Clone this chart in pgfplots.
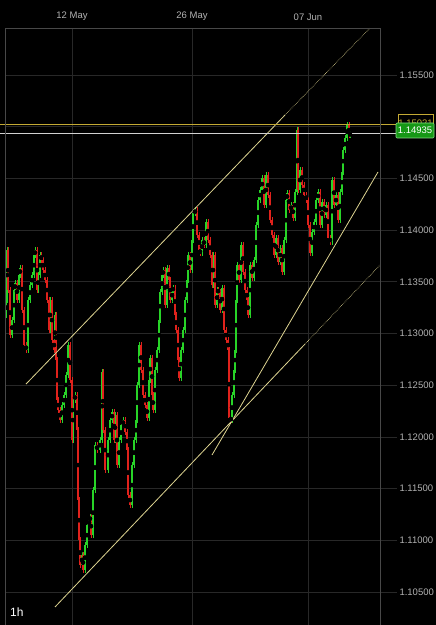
\documentclass[border=0pt]{standalone}
\usepackage{fontspec}
\setmainfont{Liberation Sans}
\usepackage{pgfplots}
\usepackage{pgfplotstable}
\pgfplotsset{compat=1.18}
\definecolor{upc}{RGB}{40,212,40}
\definecolor{dnc}{RGB}{224,34,28}
\definecolor{gridc}{RGB}{40,40,40}
\definecolor{framec}{RGB}{72,72,72}
\definecolor{labc}{RGB}{178,178,178}
\definecolor{trendc}{RGB}{222,212,145}
\definecolor{hlyel}{RGB}{196,170,52}
\definecolor{boxg}{RGB}{22,152,22}
\definecolor{boxgb}{RGB}{130,220,130}

\pgfplotstableread{
x o c
6 1.13180 1.13324
7 1.13324 1.13807
8 1.13807 1.13420
10 1.13420 1.12985
12 1.12985 1.13130
14 1.13130 1.13420
15 1.13420 1.13488
17 1.13488 1.13324
19 1.13324 1.13566
20 1.13566 1.13633
22 1.13633 1.13227
24 1.13227 1.12889
26 1.12889 1.12840
28 1.12840 1.13324
30 1.13324 1.13469
32 1.13469 1.13566
34 1.13566 1.13759
35 1.13759 1.13807
37 1.13807 1.13420
38 1.13420 1.13566
40 1.13566 1.13759
41 1.13759 1.13711
43 1.13711 1.13614
45 1.13614 1.13517
47 1.13517 1.13324
49 1.13324 1.13034
50 1.13034 1.13324
52 1.13324 1.12937
54 1.12937 1.12840
55 1.12840 1.13179
56 1.13179 1.12743
57 1.12743 1.12357
58 1.12357 1.12260
60 1.12260 1.12163
62 1.12163 1.12308
64 1.12308 1.12405
66 1.12405 1.12598
68 1.12598 1.12889
70 1.12889 1.12550
72 1.12550 1.11970
73 1.11970 1.12357
75 1.12357 1.12405
77 1.12405 1.12066
78 1.12066 1.11390
79 1.11390 1.11003
80 1.11003 1.10761
82 1.10761 1.10858
83 1.10858 1.10713
85 1.10713 1.10954
87 1.10954 1.11148
89 1.11148 1.11196
90 1.11196 1.11225
91 1.11225 1.11051
93 1.11051 1.11486
95 1.11486 1.11921
97 1.11921 1.11873
100 1.11873 1.11970
102 1.11970 1.12627
103 1.12627 1.12066
105 1.12066 1.11680
108 1.11680 1.11970
110 1.11970 1.12163
112 1.12163 1.12241
114 1.12241 1.11970
115 1.11970 1.12212
117 1.12212 1.11728
119 1.11728 1.11970
121 1.11970 1.12115
123 1.12115 1.12163
125 1.12163 1.12047
127 1.12047 1.11873
128 1.11873 1.11438
130 1.11438 1.11341
132 1.11341 1.11728
134 1.11728 1.11970
136 1.11970 1.12163
137 1.12163 1.12502
139 1.12502 1.12889
141 1.12889 1.12647
143 1.12647 1.12405
145 1.12405 1.12308
147 1.12308 1.12183
149 1.12183 1.12550
150 1.12550 1.12763
152 1.12763 1.12405
153 1.12405 1.12260
155 1.12260 1.12647
157 1.12647 1.12840
159 1.12840 1.13130
160 1.13130 1.13401
162 1.13401 1.13566
163 1.13566 1.13614
165 1.13614 1.13275
167 1.13275 1.13633
169 1.13633 1.13517
170 1.13517 1.13324
172 1.13324 1.13420
173 1.13420 1.13440
175 1.13440 1.13179
176 1.13179 1.13034
178 1.13034 1.12743
179 1.12743 1.12569
181 1.12569 1.12840
183 1.12840 1.13034
185 1.13034 1.13324
187 1.13324 1.13517
188 1.13517 1.13759
190 1.13759 1.13614
192 1.13614 1.13904
193 1.13904 1.14165
195 1.14165 1.14194
197 1.14194 1.13952
199 1.13952 1.13807
200 1.13807 1.13778
202 1.13778 1.13904
204 1.13904 1.13856
206 1.13856 1.14078
208 1.14078 1.13904
210 1.13904 1.13759
212 1.13759 1.13469
213 1.13469 1.13759
215 1.13759 1.13275
217 1.13275 1.13420
218 1.13420 1.13401
220 1.13401 1.13227
222 1.13227 1.13440
224 1.13440 1.13034
226 1.13034 1.12937
228 1.12937 1.12840
229 1.12840 1.12183
231 1.12183 1.12163
232 1.12163 1.12405
234 1.12405 1.12647
235 1.12647 1.12840
236 1.12840 1.13324
237 1.13324 1.13662
239 1.13662 1.13517
241 1.13517 1.13856
243 1.13856 1.13595
245 1.13595 1.13420
247 1.13420 1.13324
248 1.13324 1.13179
250 1.13179 1.13662
252 1.13662 1.13537
254 1.13537 1.13711
256 1.13711 1.14049
258 1.14049 1.14291
260 1.14291 1.14388
262 1.14388 1.14504
264 1.14504 1.14242
266 1.14242 1.14533
268 1.14533 1.14339
270 1.14339 1.14097
272 1.14097 1.13952
274 1.13952 1.13759
276 1.13759 1.13923
278 1.13923 1.13691
280 1.13691 1.13827
282 1.13827 1.13595
284 1.13595 1.13904
286 1.13904 1.14291
287 1.14291 1.14359
289 1.14359 1.14194
291 1.14194 1.14242
293 1.14242 1.14117
295 1.14117 1.14368
297 1.14368 1.14968
298 1.14968 1.14388
300 1.14388 1.14581
302 1.14581 1.14436
304 1.14436 1.14339
306 1.14339 1.14291
308 1.14291 1.14049
310 1.14049 1.13778
312 1.13778 1.13981
314 1.13981 1.14078
316 1.14078 1.14291
318 1.14291 1.14368
320 1.14368 1.14049
322 1.14049 1.14272
324 1.14272 1.14146
326 1.14146 1.14242
328 1.14242 1.13923
330 1.13923 1.13885
332 1.13885 1.14484
334 1.14484 1.14242
336 1.14242 1.14339
338 1.14339 1.14097
340 1.14097 1.14368
342 1.14368 1.14562
343 1.14562 1.14774
345 1.14774 1.14890
347 1.14890 1.15016
349 1.15016 1.14919
350 1.14919 1.14935
}\candles

\begin{document}
\begin{tikzpicture}
\fill[black] (0pt,0pt) rectangle (436pt,625pt);
\begin{axis}[
  at={(5pt,0pt)}, anchor=south west,
  scale only axis, width=375pt, height=597pt,
  xmin=5, xmax=380, ymin=1.101809, ymax=1.159545,
  clip=false,
  axis line style={draw=none},
  major tick length=0pt,
  tick style={draw=none},
  xtick={72,192,308}, xticklabels={12 May,26 May,07 Jun},
  xticklabel pos=upper, xtick pos=upper,
  ytick={1.105,1.11,1.115,1.12,1.125,1.13,1.135,1.14,1.145,1.15,1.155},
  yticklabel pos=right, ytick pos=right,
  grid=major, grid style={draw=gridc, line width=0.6pt},
  /pgf/number format/assume math mode=true,
  ticklabel style={font=\fontsize{9.5}{11}\selectfont, text=labc},
  xticklabel style={yshift=3.5pt},
  yticklabel style={anchor=west, xshift=16pt, /pgf/number format/.cd, fixed, fixed zerofill, precision=5},
]
% y tick extensions
\pgfplotsinvokeforeach{1.105,1.11,1.115,1.12,1.125,1.13,1.135,1.14,1.145,1.155}{
  \draw[gridc, line width=0.6pt] (axis cs:380,#1) -- (axis cs:397,#1);
}
% wicks
\addplot[only marks, mark=none, forget plot,
  restrict expr to domain={\thisrow{c}-\thisrow{o}}{0:1},
  error bars/.cd, y dir=both, y explicit, error mark=none,
  error bar style={draw=upc, line width=0.7pt}]
  table[x=x, y expr={(\thisrow{o}+\thisrow{c})/2}, y error expr={abs(\thisrow{c}-\thisrow{o})/2+0.0003}] {\candles};
\addplot[only marks, mark=none, forget plot,
  restrict expr to domain={\thisrow{c}-\thisrow{o}}{-1:0},
  error bars/.cd, y dir=both, y explicit, error mark=none,
  error bar style={draw=dnc, line width=0.7pt}]
  table[x=x, y expr={(\thisrow{o}+\thisrow{c})/2}, y error expr={abs(\thisrow{c}-\thisrow{o})/2+0.0003}] {\candles};
% bodies
\addplot[only marks, mark=none, forget plot,
  restrict expr to domain={\thisrow{c}-\thisrow{o}}{0:1},
  error bars/.cd, y dir=both, y explicit, error mark=none,
  error bar style={draw=upc, line width=1.9pt}]
  table[x=x, y expr={(\thisrow{o}+\thisrow{c})/2}, y error expr={abs(\thisrow{c}-\thisrow{o})/2}] {\candles};
\addplot[only marks, mark=none, forget plot,
  restrict expr to domain={\thisrow{c}-\thisrow{o}}{-1:0},
  error bars/.cd, y dir=both, y explicit, error mark=none,
  error bar style={draw=dnc, line width=1.9pt}]
  table[x=x, y expr={(\thisrow{o}+\thisrow{c})/2}, y error expr={abs(\thisrow{c}-\thisrow{o})/2}] {\candles};
% trend lines
\addplot[trendc, line width=0.8pt, no marks] coordinates {(26,1.12511) (285,1.15113)};
\addplot[trendc, line width=0.6pt, densely dotted, no marks] coordinates {(285,1.15113) (370,1.15954)};
\addplot[trendc, line width=0.8pt, no marks] coordinates {(55,1.10355) (305,1.12898)};
\addplot[trendc, line width=0.6pt, densely dotted, no marks] coordinates {(305,1.12898) (380,1.13662)};
\addplot[trendc, line width=0.8pt, no marks] coordinates {(212,1.11825) (378,1.14562)};
% horizontal price lines
\addplot[hlyel, line width=0.9pt, no marks] coordinates {(0,1.15021) (398,1.15021)};
\addplot[white!82!black, line width=0.9pt, no marks] coordinates {(0,1.14935) (396,1.14935)};
\end{axis}
% frame
\draw[framec, line width=0.7pt] (5pt,0pt) -- (5pt,597pt) -- (380pt,597pt) -- (380pt,0pt);
% price labels
\draw[hlyel, fill=black, line width=0.7pt] (398pt,490pt) rectangle (433pt,511pt);
\node[text=hlyel, font=\fontsize{9.5}{11}\selectfont, inner sep=0pt] at (415.5pt,501.5pt) {1.15021};
\draw[boxgb, fill=boxg, line width=0.6pt, rounded corners=1pt] (396pt,487pt) rectangle (434pt,502pt);
\node[text=white, font=\fontsize{9.5}{11}\selectfont, inner sep=0pt] at (415pt,494.5pt) {1.14935};
\node[text=white, font=\fontsize{12}{14}\selectfont, anchor=west, inner sep=0pt] at (10pt,13pt) {1h};
\pgfresetboundingbox
\useasboundingbox (0pt,0pt) rectangle (436pt,625pt);
\end{tikzpicture}
\end{document}
